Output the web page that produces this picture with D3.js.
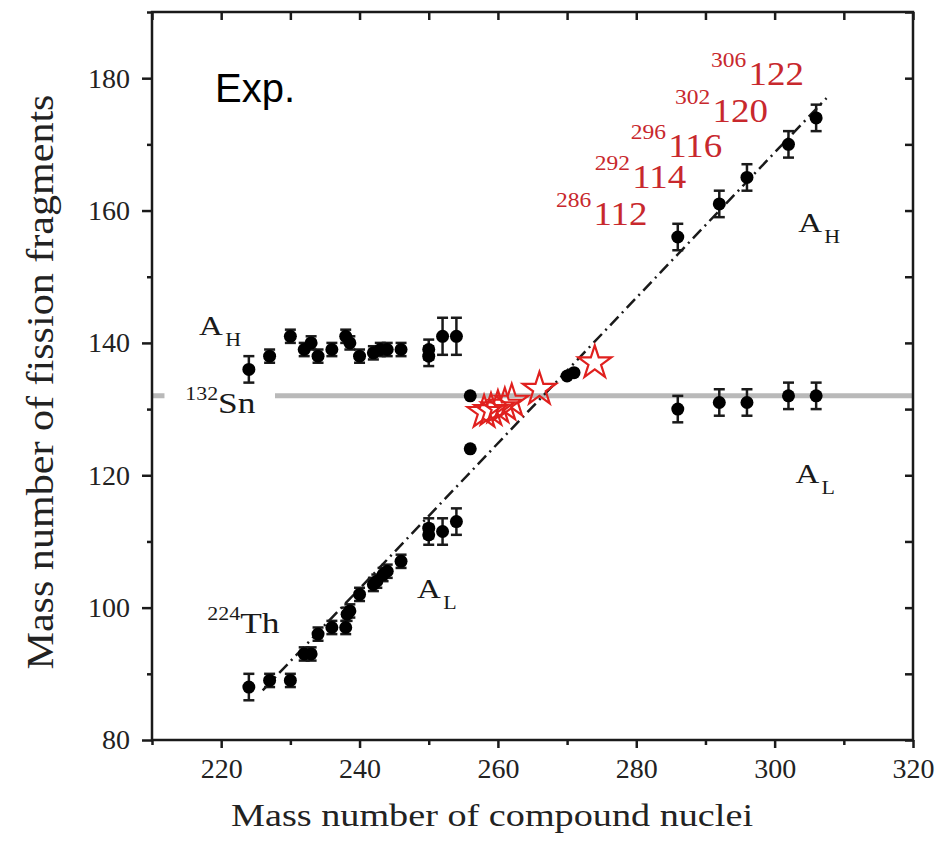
<!DOCTYPE html>
<html>
<head>
<meta charset="utf-8">
<script src="https://cdn.jsdelivr.net/npm/d3@7"></script>
<style>
  body { margin: 0; background: #fff; }
  svg { display: block; }
</style>
</head>
<body>
<svg id="chart" width="941" height="843"></svg>
<script>
// heavy fragment (A_H) data
var ahX = [224, 227, 230, 232, 233, 234, 236, 238, 238.6, 240, 242, 243, 244, 246, 250, 250, 252, 254, 286, 292, 296, 302, 306];
var ahY = [136, 138, 141, 139, 140, 138, 139, 141, 140, 138, 138.5, 139, 139, 139, 138, 139, 141, 141, 156, 161, 165, 170, 174];
var ahErr = [2, 1, 1, 1, 1, 1, 1, 1, 1, 1, 1, 1, 1, 1, 1.5, 1.5, 2.8, 2.8, 2, 2, 2, 2, 2];

// light fragment (A_L) data
var alX = [224, 227, 230, 232, 233, 234, 236, 238, 238.2, 238.6, 240, 242, 242.5, 243.4, 244, 246, 250, 250, 252, 254, 286, 292, 296, 302, 306];
var alY = [88, 89, 89, 93, 93, 96, 97, 97, 99, 99.5, 102, 103.5, 104, 105, 105.5, 107, 111, 112, 111.5, 113, 130, 131, 131, 132, 132];
var alErr = [2, 1, 1, 1, 1, 1, 1, 1, 1, 1, 1, 1, 1, 1, 1, 1, 1.5, 1.5, 2, 2, 2, 2, 2, 2, 2];

// points without error bars
var midX = [256, 256, 270, 271];
var midY = [132, 124, 135, 135.5];

// superheavy predictions (red stars)
var starX = [258, 259, 260, 261, 262, 266, 274];
var starY = [129.5, 129.8, 130.2, 130.6, 131.2, 133, 137];

// dash-dot guide line
var lineX = [226, 307.5];
var lineY = [87.5, 177];

var snLevel = 132;

// red nucleus labels
var massLabels = ["306", "302", "296", "292", "286"];
var elemLabels = ["122", "120", "116", "114", "112"];

var xTicks = [220, 240, 260, 280, 300, 320];
var xMinor = [210, 230, 250, 270, 290, 310];
var yTicks = [80, 100, 120, 140, 160, 180];
var yMinor = [90, 110, 130, 150, 170, 190];

var width = 941, height = 843;
var margin = {top: 12, right: 28, bottom: 103, left: 152};

var svg = d3.select("#chart");

var x = d3.scaleLinear().domain([210, 320]).range([margin.left, width - margin.right]);
var y = d3.scaleLinear().domain([80, 190]).range([height - margin.bottom, margin.top]);

var serif = "'Liberation Serif', 'Times New Roman', serif";
var red = "#c8282d";
var ink = "#1a1a1a";

var plotBottom = y.range()[0], plotTop = y.range()[1];
var plotLeft = x.range()[0], plotRight = x.range()[1];

// axes
function styleAxis(g) {
    g.select(".domain").remove();
    g.selectAll("line").attr("stroke", ink).attr("stroke-width", 2.5);
    g.selectAll("text").attr("font-family", serif).attr("font-size", 28).attr("fill", "#222");
}

svg.append("g").attr("transform", "translate(0," + plotBottom + ")")
    .call(d3.axisBottom(x).tickValues(xTicks).tickSize(8).tickPadding(10).tickFormat(d3.format("d")))
    .call(styleAxis);
svg.append("g").attr("transform", "translate(0," + plotBottom + ")")
    .call(d3.axisBottom(x).tickValues(xMinor).tickSize(5).tickFormat(""))
    .call(styleAxis);
svg.append("g").attr("transform", "translate(0," + plotTop + ")")
    .call(d3.axisTop(x).tickValues(xTicks.concat(xMinor)).tickSize(-8).tickFormat(""))
    .call(styleAxis);

svg.append("g").attr("transform", "translate(" + plotLeft + ",0)")
    .call(d3.axisLeft(y).tickValues(yTicks).tickSize(10).tickPadding(12).tickFormat(d3.format("d")))
    .call(styleAxis);
svg.append("g").attr("transform", "translate(" + plotLeft + ",0)")
    .call(d3.axisLeft(y).tickValues(yMinor).tickSize(5).tickFormat(""))
    .call(styleAxis);
svg.append("g").attr("transform", "translate(" + plotRight + ",0)")
    .call(d3.axisRight(y).tickValues(yTicks.concat(yMinor)).tickSize(-8).tickFormat(""))
    .call(styleAxis);

// 132Sn reference line
svg.append("line")
    .attr("x1", plotLeft).attr("x2", plotRight)
    .attr("y1", y(snLevel)).attr("y2", y(snLevel))
    .attr("stroke", "#b9b9b9").attr("stroke-width", 5);

// annotations (stretched serif like the original figure)
function label(gx, gy, parts, color, stretch) {
    var g = svg.append("g").attr("transform", "translate(" + x(gx) + "," + y(gy) + ") scale(" + stretch + ",1)");
    var t = g.append("text").attr("font-family", serif).attr("fill", color);
    parts.forEach(function (p) {
        t.append("tspan").attr("font-size", p.size).attr("dy", p.dy || 0).attr("dx", p.dx || 0).text(p.text);
    });
    return g;
}

// Sn label with a white gap in the gray line
var sn = label(214.8, 129.4, [
    {text: "132", size: 18, dy: -13},
    {text: "Sn", size: 29, dy: 13}
], ink, 1.22);
var bb = sn.node().getBBox();
sn.insert("rect", "text")
    .attr("x", bb.x - 17).attr("width", bb.width + 33)
    .attr("y", bb.y).attr("height", bb.height)
    .attr("fill", "#fff");

label(218.0, 96.2, [
    {text: "224", size: 18, dy: -13},
    {text: "Th", size: 29, dy: 13}
], ink, 1.22);

var subs = [
    {gx: 216.8, gy: 141.2, s: "H"},
    {gx: 248.3, gy: 101.5, s: "L"},
    {gx: 303.4, gy: 156.8, s: "H"},
    {gx: 303.0, gy: 118.8, s: "L"}
];
subs.forEach(function (d) {
    label(d.gx, d.gy, [
        {text: "A", size: 27},
        {text: d.s, size: 18, dy: 11, dx: 2}
    ], ink, 1.22);
});

// red element labels
var redX = [290.8, 285.6, 279.2, 274.0, 268.4];
var redY = [179.0, 173.4, 168.1, 163.4, 157.8];
elemLabels.forEach(function (e, i) {
    label(redX[i], redY[i], [
        {text: massLabels[i], size: 21, dy: -18},
        {text: e, size: 33, dy: 18, dx: 2}
    ], red, 1.12);
});

// Exp.
svg.append("text")
    .attr("x", x(219.1)).attr("y", y(176.4))
    .attr("font-family", "'Liberation Sans', Arial, sans-serif")
    .attr("font-size", 40).attr("fill", "#000")
    .text("Exp.");

// dash-dot line
svg.append("path")
    .datum(d3.zip(lineX, lineY))
    .attr("d", d3.line().x(function (d) { return x(d[0]); }).y(function (d) { return y(d[1]); }))
    .attr("fill", "none").attr("stroke", ink).attr("stroke-width", 2.5)
    .attr("stroke-dasharray", "12,5,2,5");

// error bars + points
function errorPoints(xs, ys, es) {
    var data = xs.map(function (v, i) { return {x: v, y: ys[i], e: es ? es[i] : 0}; });
    var g = svg.append("g");
    var eb = g.selectAll("g.eb").data(data.filter(function (d) { return d.e > 0; })).enter().append("g")
        .attr("stroke", ink).attr("stroke-width", 2.5);
    eb.append("line")
        .attr("x1", function (d) { return x(d.x); }).attr("x2", function (d) { return x(d.x); })
        .attr("y1", function (d) { return y(d.y - d.e); }).attr("y2", function (d) { return y(d.y + d.e); });
    [-1, 1].forEach(function (s) {
        eb.append("line")
            .attr("x1", function (d) { return x(d.x) - 5.5; }).attr("x2", function (d) { return x(d.x) + 5.5; })
            .attr("y1", function (d) { return y(d.y + s * d.e); }).attr("y2", function (d) { return y(d.y + s * d.e); });
    });
    g.selectAll("circle").data(data).enter().append("circle")
        .attr("cx", function (d) { return x(d.x); })
        .attr("cy", function (d) { return y(d.y); })
        .attr("r", 6.5).attr("fill", "#000");
}
errorPoints(ahX, ahY, ahErr);
errorPoints(alX, alY, alErr);
errorPoints(midX, midY, null);

// red open stars
var star = d3.symbol().type(d3.symbolStar).size(340);
svg.append("g").selectAll("path").data(d3.zip(starX, starY)).enter().append("path")
    .attr("transform", function (d) { return "translate(" + x(d[0]) + "," + y(d[1]) + ")"; })
    .attr("d", star)
    .attr("fill", "none").attr("stroke", "#e0201e").attr("stroke-width", 2.2);

// frame
svg.append("rect")
    .attr("x", plotLeft).attr("y", plotTop)
    .attr("width", plotRight - plotLeft).attr("height", plotBottom - plotTop)
    .attr("fill", "none").attr("stroke", ink).attr("stroke-width", 2.5);

// axis titles
svg.append("text")
    .attr("x", 492)
    .attr("y", plotBottom + 86)
    .attr("text-anchor", "middle")
    .attr("font-family", serif).attr("font-size", 31).attr("fill", "#222")
    .attr("textLength", 522).attr("lengthAdjust", "spacingAndGlyphs")
    .text("Mass number of compound nuclei");

svg.append("text")
    .attr("transform", "translate(53," + ((plotTop + plotBottom) / 2 + 6) + ") rotate(-90)")
    .attr("text-anchor", "middle")
    .attr("font-family", serif).attr("font-size", 38).attr("fill", "#222")
    .attr("textLength", 575).attr("lengthAdjust", "spacingAndGlyphs")
    .text("Mass number of fission fragments");
</script>
</body>
</html>
